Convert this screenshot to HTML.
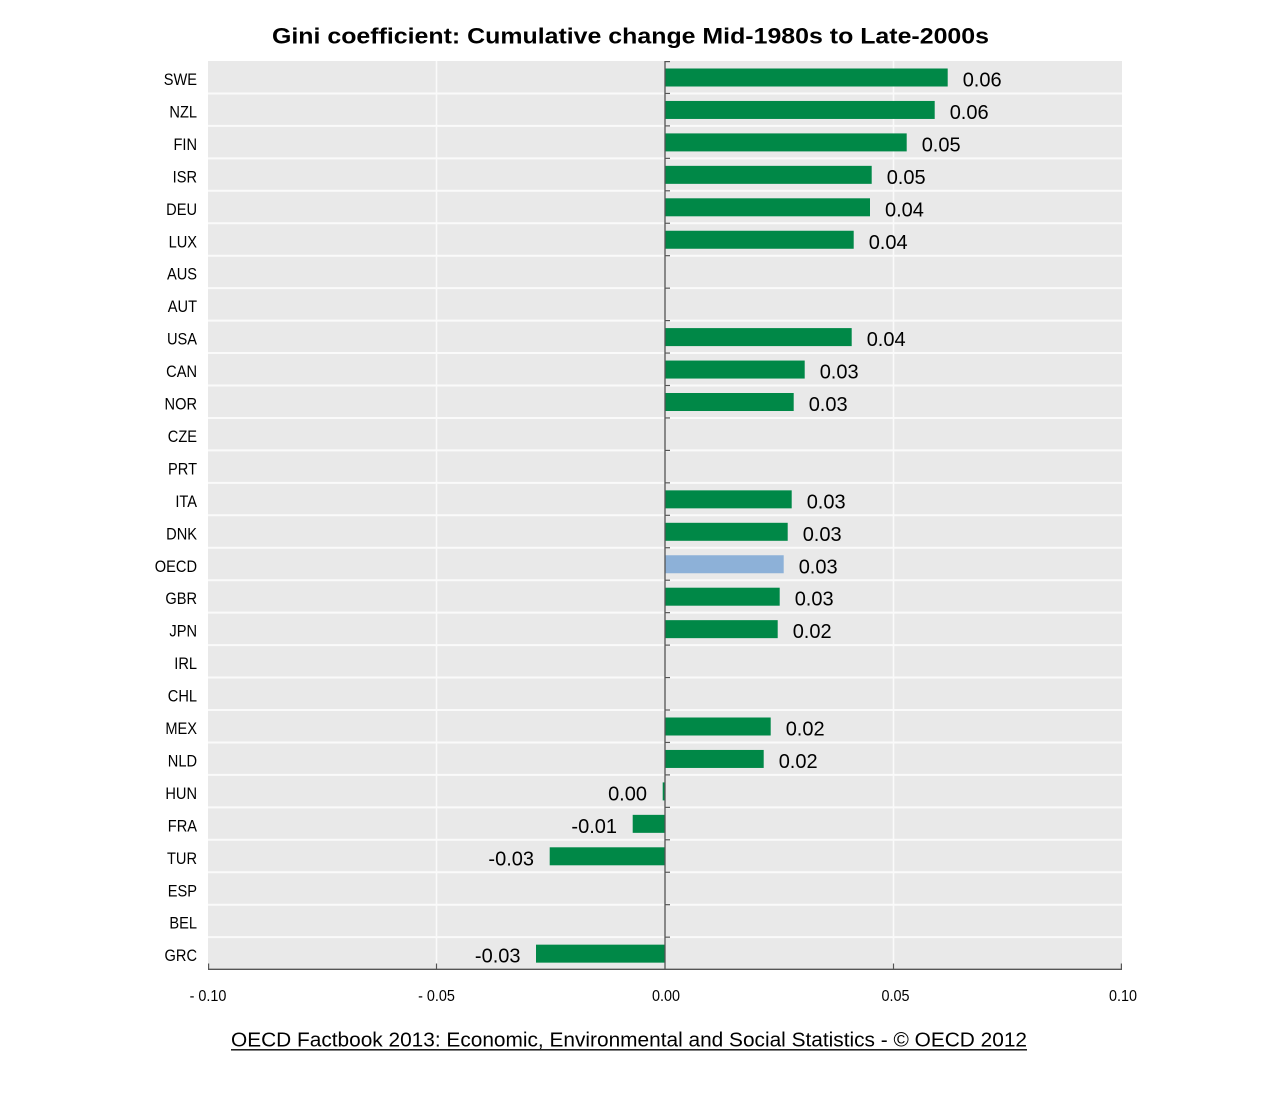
<!DOCTYPE html>
<html><head><meta charset="utf-8"><style>
html,body{margin:0;padding:0;background:#fff;}
svg{display:block;}
text{font-family:"Liberation Sans",Arial,sans-serif;}
</style></head><body>
<svg width="1262" height="1094" viewBox="0 0 1262 1094" xmlns="http://www.w3.org/2000/svg">
<rect x="0" y="0" width="1262" height="1094" fill="#fff"/>
<text x="630.5" y="43.5" text-anchor="middle" font-size="22.5" font-weight="bold" textLength="717" lengthAdjust="spacingAndGlyphs" fill="#000">Gini coefficient: Cumulative change Mid-1980s to Late-2000s</text>
<rect x="208" y="61" width="914" height="908.6" fill="#e9e9e9"/>
<g stroke="#fafafa" stroke-width="2">
<line x1="208" x2="1122" y1="93.45" y2="93.45"/><line x1="208" x2="1122" y1="125.9" y2="125.9"/><line x1="208" x2="1122" y1="158.35" y2="158.35"/><line x1="208" x2="1122" y1="190.8" y2="190.8"/><line x1="208" x2="1122" y1="223.25" y2="223.25"/><line x1="208" x2="1122" y1="255.7" y2="255.7"/><line x1="208" x2="1122" y1="288.15" y2="288.15"/><line x1="208" x2="1122" y1="320.6" y2="320.6"/><line x1="208" x2="1122" y1="353.05" y2="353.05"/><line x1="208" x2="1122" y1="385.5" y2="385.5"/><line x1="208" x2="1122" y1="417.95" y2="417.95"/><line x1="208" x2="1122" y1="450.4" y2="450.4"/><line x1="208" x2="1122" y1="482.85" y2="482.85"/><line x1="208" x2="1122" y1="515.3" y2="515.3"/><line x1="208" x2="1122" y1="547.75" y2="547.75"/><line x1="208" x2="1122" y1="580.2" y2="580.2"/><line x1="208" x2="1122" y1="612.65" y2="612.65"/><line x1="208" x2="1122" y1="645.1" y2="645.1"/><line x1="208" x2="1122" y1="677.55" y2="677.55"/><line x1="208" x2="1122" y1="710" y2="710"/><line x1="208" x2="1122" y1="742.45" y2="742.45"/><line x1="208" x2="1122" y1="774.9" y2="774.9"/><line x1="208" x2="1122" y1="807.35" y2="807.35"/><line x1="208" x2="1122" y1="839.8" y2="839.8"/><line x1="208" x2="1122" y1="872.25" y2="872.25"/><line x1="208" x2="1122" y1="904.7" y2="904.7"/><line x1="208" x2="1122" y1="937.15" y2="937.15"/>
</g>
<g stroke="#fafafa" stroke-width="1.6">
<line x1="436.5" x2="436.5" y1="61" y2="969"/><line x1="893.5" x2="893.5" y1="61" y2="969"/>
</g>
<g fill="#008847">
<rect x="665" y="68.5" width="282.7" height="18"/>
<rect x="665" y="100.95" width="269.7" height="18"/>
<rect x="665" y="133.4" width="241.7" height="18"/>
<rect x="665" y="165.85" width="206.7" height="18"/>
<rect x="665" y="198.3" width="205" height="18"/>
<rect x="665" y="230.75" width="188.7" height="18"/>
<rect x="665" y="328.1" width="186.7" height="18"/>
<rect x="665" y="360.55" width="139.7" height="18"/>
<rect x="665" y="393" width="128.7" height="18"/>
<rect x="665" y="490.35" width="126.7" height="18"/>
<rect x="665" y="522.8" width="122.7" height="18"/>
<rect x="665" y="587.7" width="114.7" height="18"/>
<rect x="665" y="620.15" width="112.7" height="18"/>
<rect x="665" y="717.5" width="105.7" height="18"/>
<rect x="665" y="749.95" width="98.7" height="18"/>
<rect x="662.7" y="782.4" width="2.3" height="18"/>
<rect x="632.7" y="814.85" width="32.3" height="18"/>
<rect x="549.7" y="847.3" width="115.3" height="18"/>
<rect x="536" y="944.65" width="129" height="18"/>
</g>
<rect x="665" y="555.25" width="118.7" height="18" fill="#8db1d8"/>
<g stroke="#555" stroke-width="1.3">
<line x1="665" x2="665" y1="61" y2="969.6"/>
<line x1="208" x2="1122" y1="969.3" y2="969.3"/>
</g>
<g stroke="#555" stroke-width="1.2">
<line x1="665" x2="670" y1="61.6" y2="61.6"/><line x1="665" x2="670" y1="93.45" y2="93.45"/><line x1="665" x2="670" y1="125.9" y2="125.9"/><line x1="665" x2="670" y1="158.35" y2="158.35"/><line x1="665" x2="670" y1="190.8" y2="190.8"/><line x1="665" x2="670" y1="223.25" y2="223.25"/><line x1="665" x2="670" y1="255.7" y2="255.7"/><line x1="665" x2="670" y1="288.15" y2="288.15"/><line x1="665" x2="670" y1="320.6" y2="320.6"/><line x1="665" x2="670" y1="353.05" y2="353.05"/><line x1="665" x2="670" y1="385.5" y2="385.5"/><line x1="665" x2="670" y1="417.95" y2="417.95"/><line x1="665" x2="670" y1="450.4" y2="450.4"/><line x1="665" x2="670" y1="482.85" y2="482.85"/><line x1="665" x2="670" y1="515.3" y2="515.3"/><line x1="665" x2="670" y1="547.75" y2="547.75"/><line x1="665" x2="670" y1="580.2" y2="580.2"/><line x1="665" x2="670" y1="612.65" y2="612.65"/><line x1="665" x2="670" y1="645.1" y2="645.1"/><line x1="665" x2="670" y1="677.55" y2="677.55"/><line x1="665" x2="670" y1="710" y2="710"/><line x1="665" x2="670" y1="742.45" y2="742.45"/><line x1="665" x2="670" y1="774.9" y2="774.9"/><line x1="665" x2="670" y1="807.35" y2="807.35"/><line x1="665" x2="670" y1="839.8" y2="839.8"/><line x1="665" x2="670" y1="872.25" y2="872.25"/><line x1="665" x2="670" y1="904.7" y2="904.7"/><line x1="665" x2="670" y1="937.15" y2="937.15"/>
<line x1="208.6" x2="208.6" y1="963.5" y2="969"/><line x1="436.5" x2="436.5" y1="963.5" y2="969"/><line x1="893.5" x2="893.5" y1="963.5" y2="969"/><line x1="1121.4" x2="1121.4" y1="963.5" y2="969"/>
</g>
<g font-size="20" fill="#000">
<text x="962.7" y="86.5">0.06</text>
<text x="949.7" y="118.95">0.06</text>
<text x="921.7" y="151.4">0.05</text>
<text x="886.7" y="183.85">0.05</text>
<text x="885" y="216.3">0.04</text>
<text x="868.7" y="248.75">0.04</text>
<text x="866.7" y="346.1">0.04</text>
<text x="819.7" y="378.55">0.03</text>
<text x="808.7" y="411">0.03</text>
<text x="806.7" y="508.35">0.03</text>
<text x="802.7" y="540.8">0.03</text>
<text x="798.7" y="573.25">0.03</text>
<text x="794.7" y="605.7">0.03</text>
<text x="792.7" y="638.15">0.02</text>
<text x="785.7" y="735.5">0.02</text>
<text x="778.7" y="767.95">0.02</text>
<text x="647" y="800.4" text-anchor="end">0.00</text>
<text x="617" y="832.85" text-anchor="end">-0.01</text>
<text x="534" y="865.3" text-anchor="end">-0.03</text>
<text x="520.5" y="962.65" text-anchor="end">-0.03</text>
</g>
<g font-size="17" fill="#000" text-anchor="end">
<text transform="translate(197,85) scale(0.86,1)">SWE</text>
<text transform="translate(197,117.45) scale(0.86,1)">NZL</text>
<text transform="translate(197,149.9) scale(0.86,1)">FIN</text>
<text transform="translate(197,182.35) scale(0.86,1)">ISR</text>
<text transform="translate(197,214.8) scale(0.86,1)">DEU</text>
<text transform="translate(197,247.25) scale(0.86,1)">LUX</text>
<text transform="translate(197,279.7) scale(0.86,1)">AUS</text>
<text transform="translate(197,312.15) scale(0.86,1)">AUT</text>
<text transform="translate(197,344.6) scale(0.86,1)">USA</text>
<text transform="translate(197,377.05) scale(0.86,1)">CAN</text>
<text transform="translate(197,409.5) scale(0.86,1)">NOR</text>
<text transform="translate(197,441.95) scale(0.86,1)">CZE</text>
<text transform="translate(197,474.4) scale(0.86,1)">PRT</text>
<text transform="translate(197,506.85) scale(0.86,1)">ITA</text>
<text transform="translate(197,539.3) scale(0.86,1)">DNK</text>
<text transform="translate(197,571.75) scale(0.86,1)">OECD</text>
<text transform="translate(197,604.2) scale(0.86,1)">GBR</text>
<text transform="translate(197,636.65) scale(0.86,1)">JPN</text>
<text transform="translate(197,669.1) scale(0.86,1)">IRL</text>
<text transform="translate(197,701.55) scale(0.86,1)">CHL</text>
<text transform="translate(197,734) scale(0.86,1)">MEX</text>
<text transform="translate(197,766.45) scale(0.86,1)">NLD</text>
<text transform="translate(197,798.9) scale(0.86,1)">HUN</text>
<text transform="translate(197,831.35) scale(0.86,1)">FRA</text>
<text transform="translate(197,863.8) scale(0.86,1)">TUR</text>
<text transform="translate(197,896.25) scale(0.86,1)">ESP</text>
<text transform="translate(197,928.7) scale(0.86,1)">BEL</text>
<text transform="translate(197,961.15) scale(0.86,1)">GRC</text>
</g>
<g font-size="16" fill="#000" text-anchor="middle">
<text transform="translate(208,1001) scale(0.9,1)">- 0.10</text>
<text transform="translate(436.5,1001) scale(0.9,1)">- 0.05</text>
<text transform="translate(666,1001) scale(0.9,1)">0.00</text>
<text transform="translate(895.5,1001) scale(0.9,1)">0.05</text>
<text transform="translate(1123,1001) scale(0.9,1)">0.10</text>
</g>
<text x="231" y="1046.5" font-size="20" textLength="796" lengthAdjust="spacingAndGlyphs" fill="#000">OECD Factbook 2013: Economic, Environmental and Social Statistics - © OECD 2012</text>
<line x1="231" x2="1027" y1="1049.8" y2="1049.8" stroke="#000" stroke-width="1.4"/>
</svg>
</body></html>
